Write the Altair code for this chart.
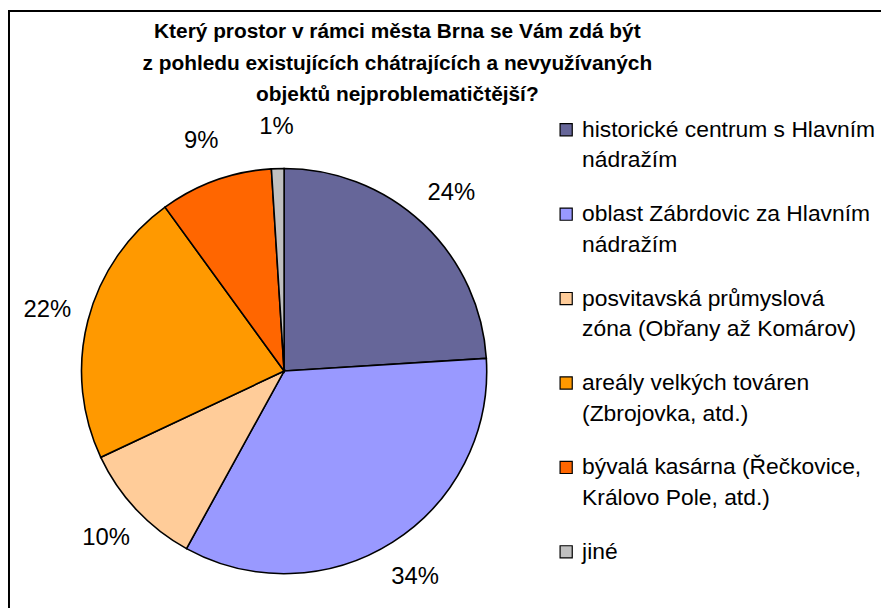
import altair as alt
import pandas as pd

FONT = "Liberation Sans"

categories = [
    "historické centrum s Hlavním nádražím",
    "oblast Zábrdovic za Hlavním nádražím",
    "posvitavská průmyslová zóna (Obřany až Komárov)",
    "areály velkých továren (Zbrojovka, atd.)",
    "bývalá kasárna (Řečkovice, Královo Pole, atd.)",
    "jiné",
]
legend_labels = [
    "historické centrum s Hlavním|nádražím",
    "oblast Zábrdovic za Hlavním|nádražím",
    "posvitavská průmyslová|zóna (Obřany až Komárov)",
    "areály velkých továren|(Zbrojovka, atd.)",
    "bývalá kasárna (Řečkovice,|Královo Pole, atd.)",
    "jiné",
]
shares = [24, 34, 10, 22, 9, 1]
pct_labels = ["24%", "34%", "10%", "22%", "9%", "1%"]
colors = ["#666699", "#9999FF", "#FFCC99", "#FF9900", "#FF6600", "#C0C0C0"]
title_lines = [
    "Který prostor v rámci města Brna se Vám zdá být",
    "z pohledu existujících chátrajících a nevyužívaných",
    "objektů nejproblematičtější?",
]

df = pd.DataFrame({
    "cat": categories,
    "legend": legend_labels,
    "share": shares,
    "label": pct_labels,
    "idx": list(range(len(categories))),
})

color = alt.Color("cat:N", scale=alt.Scale(domain=categories, range=colors), legend=None)
order = alt.Order("idx:Q")
theta = alt.Theta("share:Q", stack=True)

CX, CY, R = 278, 363.5, 204

pie = alt.Chart(df).mark_arc(outerRadius=R, stroke="black", strokeWidth=1.6).encode(
    theta=theta, color=color, order=order, x=alt.value(CX), y=alt.value(CY)
)
pie_labels = alt.Chart(df).mark_text(
    radius=246, fontSize=24, font=FONT, color="black", align="center", baseline="middle"
).encode(theta=theta, order=order, text="label:N", x=alt.value(CX), y=alt.value(CY))

ly = alt.Y("cat:N", sort=categories, axis=None,
           scale=alt.Scale(type="point", range=[120.5, 545.5], padding=0))

leg_sq = alt.Chart(df).mark_square(size=150, filled=True, stroke="black", strokeWidth=1.2, opacity=1).encode(
    x=alt.value(562), y=ly, color=color
)
leg_txt = alt.Chart(df).mark_text(
    align="left", baseline="alphabetic", lineBreak="|", lineHeight=31,
    fontSize=23, font=FONT, color="black", dy=7
).encode(x=alt.value(578), y=ly, text="legend:N")

title_df = pd.DataFrame({"t": ["|".join(title_lines)]})
title = alt.Chart(title_df).mark_text(
    align="center", baseline="alphabetic", lineBreak="|", lineHeight=32,
    fontSize=21, fontWeight="bold", font=FONT, color="black"
).encode(x=alt.value(392), y=alt.value(28), text="t:N")

frame = alt.Chart(pd.DataFrame({"a": [0]})).mark_rect(
    fillOpacity=0, stroke="black", strokeWidth=2
).encode(x=alt.value(1), x2=alt.value(1200), y=alt.value(1), y2=alt.value(1200))

chart = alt.layer(frame, pie, pie_labels, leg_sq, leg_txt, title).properties(
    width=879, height=600, autosize="none", padding=0, background="white"
).configure_view(stroke=None)

chart.save("out.html", embed_options={"renderer": "svg", "actions": False})
